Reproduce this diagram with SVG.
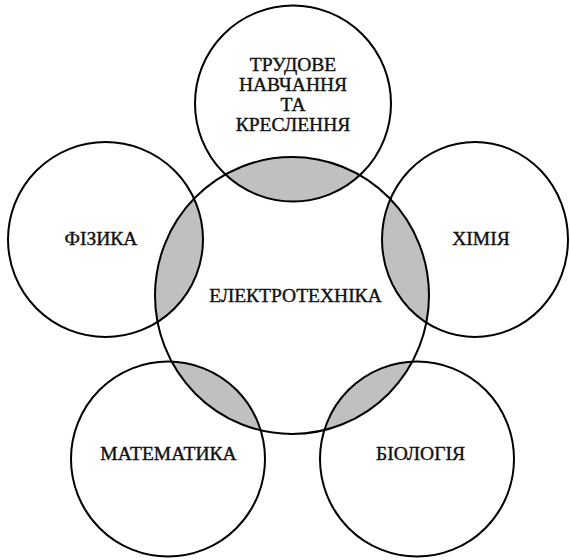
<svg xmlns="http://www.w3.org/2000/svg" width="570" height="560" viewBox="0 0 570 560">
  <style>
    .ring { fill: none; stroke: #000; stroke-width: 2; }
    .lens { fill: #c0c0c0; stroke: none; }
    .lbl { font-family: "Liberation Serif", "Times New Roman", serif; font-size: 19.5px; fill: #111; stroke: #111; stroke-width: 0.4; text-anchor: middle; }
  </style>
  <defs>
    <clipPath id="clipCenter">
      <ellipse cx="292" cy="295.5" rx="137" ry="138.5"/>
    </clipPath>
  </defs>
  <rect x="0" y="0" width="570" height="560" fill="#fff"/>
  <g id="overlaps" clip-path="url(#clipCenter)">
    <circle class="lens" cx="293" cy="103.5" r="98"/>
    <circle class="lens" cx="105.5" cy="239.5" r="97.5"/>
    <ellipse class="lens" cx="475" cy="239.5" rx="93" ry="97.5"/>
    <ellipse class="lens" cx="168" cy="459" rx="97" ry="97.5"/>
    <ellipse class="lens" cx="417" cy="459" rx="97" ry="97.5"/>
  </g>
  <g id="electrotechnics">
    <ellipse class="ring" cx="292" cy="295.5" rx="137" ry="138.5"/>
    <text class="lbl" x="295.5" y="301.5">ЕЛЕКТРОТЕХНІКА</text>
  </g>
  <g id="labour">
    <circle class="ring" cx="293" cy="103.5" r="98"/>
    <text class="lbl" x="293" y="70.5">ТРУДОВЕ</text>
    <text class="lbl" x="293" y="90.5">НАВЧАННЯ</text>
    <text class="lbl" x="293" y="110.5">ТА</text>
    <text class="lbl" x="293" y="130.5">КРЕСЛЕННЯ</text>
  </g>
  <g id="physics">
    <circle class="ring" cx="105.5" cy="239.5" r="97.5"/>
    <text class="lbl" x="101" y="245">ФІЗИКА</text>
  </g>
  <g id="chemistry">
    <ellipse class="ring" cx="475" cy="239.5" rx="93" ry="97.5"/>
    <text class="lbl" x="481" y="245">ХІМІЯ</text>
  </g>
  <g id="mathematics">
    <ellipse class="ring" cx="168" cy="459" rx="97" ry="97.5"/>
    <text class="lbl" x="168.5" y="460">МАТЕМАТИКА</text>
  </g>
  <g id="biology">
    <ellipse class="ring" cx="417" cy="459" rx="97" ry="97.5"/>
    <text class="lbl" x="420.5" y="460">БІОЛОГІЯ</text>
  </g>
  <g id="connectors"/>
</svg>
